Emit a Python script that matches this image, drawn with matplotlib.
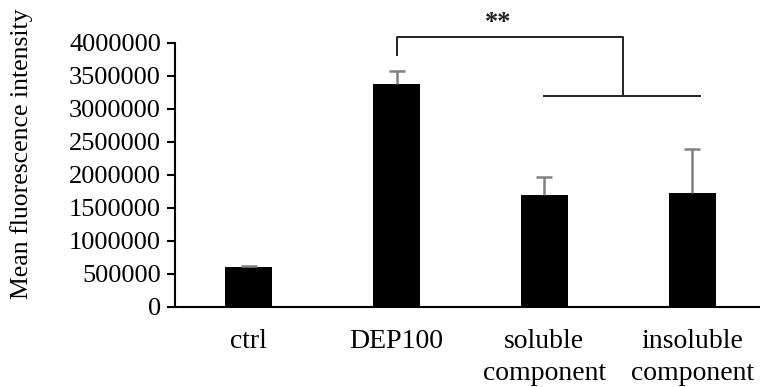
import matplotlib
matplotlib.use('Agg')
import matplotlib.pyplot as plt

# data
groups = ['ctrl', 'DEP100', 'soluble\ncomponent', 'insoluble\ncomponent']
means = [610000, 3380000, 1700000, 1730000]
errs = [15000, 200000, 270000, 670000]
yticks = [0, 500000, 1000000, 1500000, 2000000, 2500000, 3000000, 3500000, 4000000]

plt.rcParams['font.family'] = ['Liberation Serif', 'DejaVu Serif']

fig = plt.figure(figsize=(7.6, 3.87), dpi=100)
fig.patch.set_facecolor('white')
ax = fig.add_axes([0.230, 0.207, 0.778, 0.682])

x = list(range(len(groups)))
ax.bar(x, means, width=0.32, color='black', zorder=2)
eb = ax.errorbar(x, means, yerr=[[0] * len(errs), errs], fmt='none',
                 ecolor='#808080', elinewidth=1.8, capsize=5.5, capthick=1.8, zorder=3)
# only the upper cap is drawn in the original
eb[1][0].set_visible(False)

ax.set_xlim(-0.5, 3.5)
ax.set_ylim(0, 4000000)
ax.set_yticks(yticks)
ax.set_yticklabels([str(t) for t in yticks], fontsize=19)
ax.set_xticks(x)
ax.set_xticklabels(groups, fontsize=20, linespacing=1.35)
ax.tick_params(axis='x', length=0, pad=16)
ax.tick_params(axis='y', direction='out', length=6, width=1.5, pad=4)

for s in ['top', 'right']:
    ax.spines[s].set_visible(False)
for s in ['left', 'bottom']:
    ax.spines[s].set_linewidth(1.5)

ax.set_ylabel('Mean fluorescence intensity', fontsize=18.5, va='center')
ax.yaxis.set_label_coords(-0.259, 0.58)

# significance bracket
lc = '#222222'
ax.plot([1, 1, 2.53, 2.53], [3820000, 4090000, 4090000, 3200000],
        color=lc, lw=1.4, clip_on=False)
ax.plot([2.0, 3.05], [3200000, 3200000], color=lc, lw=1.4, clip_on=False)
ax.text(1.69, 4310000, '**', ha='center', va='center', fontsize=19,
        fontweight='bold', color=lc)

fig.savefig('out.png', dpi=100, facecolor='white')
